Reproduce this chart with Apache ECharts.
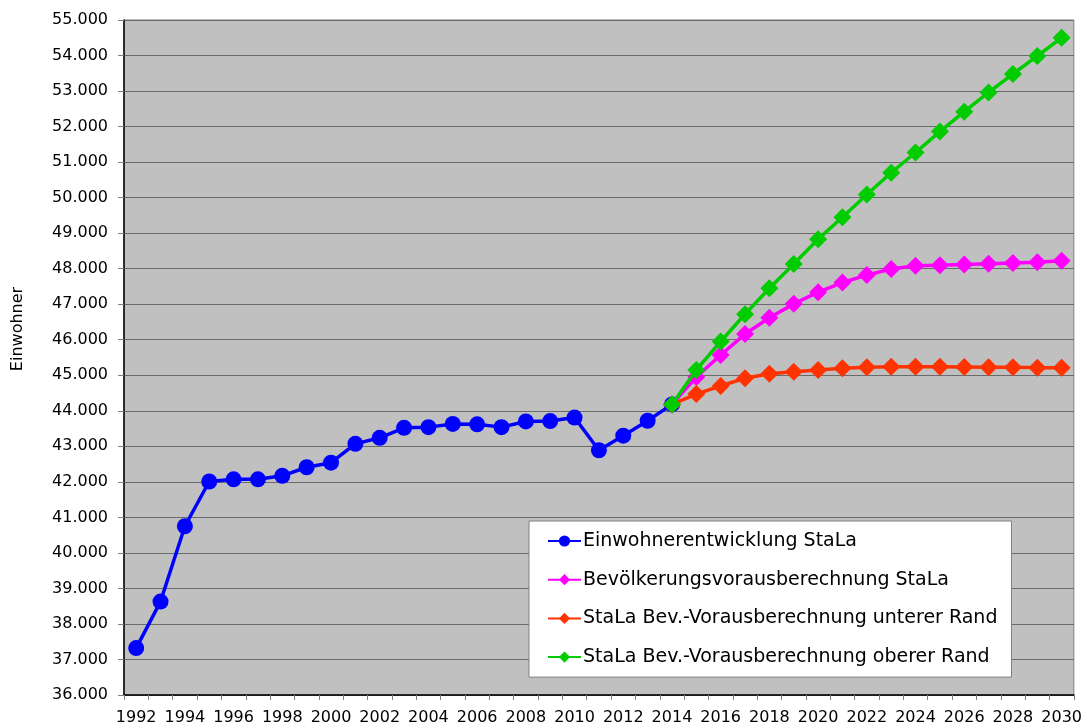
<!DOCTYPE html>
<html><head><meta charset="utf-8">
<script src="https://cdn.jsdelivr.net/npm/echarts@6/dist/echarts.min.js"></script>
<style>html,body{margin:0;padding:0;background:#fff}#c{width:1085px;height:727px}</style>
</head><body><div id="c"></div>
<script>
const years = [];
for (let y = 1992; y <= 2030; y++) years.push(String(y));

const seriesNames = [
  'Einwohnerentwicklung StaLa',
  'Bevölkerungsvorausberechnung StaLa',
  'StaLa Bev.-Vorausberechnung unterer Rand',
  'StaLa Bev.-Vorausberechnung oberer Rand'
];
const yTitle = 'Einwohner';

// 1992..2014
const einwohner = [37320, 38630, 40750, 42010, 42070, 42070, 42170, 42410, 42540, 43070, 43240,
  43520, 43540, 43630, 43620, 43540, 43700, 43710, 43810, 42890, 43300, 43720, 44180];
// 2014..2030
const bevMitte = [44180, 44950, 45570, 46160, 46620, 47010, 47340, 47610, 47820, 47990, 48080,
  48100, 48120, 48140, 48160, 48180, 48220];
const bevUnten = [44180, 44470, 44700, 44915, 45040, 45100, 45150, 45195, 45225, 45240, 45240,
  45240, 45235, 45225, 45225, 45215, 45215];
const bevOben = [44180, 45150, 45950, 46720, 47450, 48130, 48830, 49450, 50090, 50700, 51270,
  51860, 52420, 52960, 53480, 53990, 54500];

const yMin = 36000, yMax = 55000, yStep = 1000;

function pad(arr, startYear) {
  const out = years.map(() => null);
  const off = startYear - 1992;
  arr.forEach((v, i) => { out[off + i] = v; });
  return out;
}

const colors = ['#0000FF', '#FF00FF', '#FF3300', '#00CC00'];
const dataSets = [pad(einwohner, 1992), pad(bevMitte, 2014), pad(bevUnten, 2014), pad(bevOben, 2014)];
const symbols = ['circle', 'diamond', 'diamond', 'diamond'];
const sizes = [16, 18, 18, 18];
const widths = [3.5, 3.5, 3.5, 3.5];

const font = 'DejaVu Sans';
const chart = echarts.init(document.getElementById('c'));
chart.setOption({
  animation: false,
  grid: {
    left: 124, top: 20, right: 11, bottom: 32,
    show: true, backgroundColor: '#C0C0C0', borderColor: '#808080', borderWidth: 1
  },
  graphic: [{
    type: 'text',
    x: 18, y: 329,
    rotation: Math.PI / 2,
    style: {
      text: yTitle, fill: '#000', font: '16px "DejaVu Sans"',
      align: 'center', verticalAlign: 'middle'
    }
  }],
  legend: {
    orient: 'vertical',
    left: 529, top: 521,
    backgroundColor: '#FFFFFF',
    borderColor: '#808080', borderWidth: 1,
    padding: [10, 14, 10, 18],
    itemGap: 18.7,
    itemWidth: 33, itemHeight: 14,
    textStyle: { fontFamily: font, fontSize: 19, lineHeight: 20, color: '#000', padding: [0, 0, 0, -3] },
    data: seriesNames
  },
  xAxis: {
    type: 'category',
    data: years,
    boundaryGap: true,
    axisLine: { lineStyle: { color: '#000', width: 1.5 } },
    axisTick: { show: true, alignWithLabel: false, interval: 0, length: 5, lineStyle: { color: '#808080' } },
    axisLabel: { interval: 1, fontFamily: font, fontSize: 16, color: '#000', margin: 15 },
    splitLine: { show: false }
  },
  yAxis: {
    type: 'value',
    min: yMin, max: yMax, interval: yStep,
    axisLine: { show: true, lineStyle: { color: '#000', width: 1.5 } },
    axisTick: { show: true, length: 6, lineStyle: { color: '#808080' } },
    axisLabel: {
      fontFamily: font, fontSize: 16, color: '#000', margin: 16,
      formatter: v => String(v).replace(/\B(?=(\d{3})+(?!\d))/g, '.')
    },
    splitLine: { show: true, lineStyle: { color: '#6A6A6A', width: 1 } }
  },
  series: seriesNames.map((name, i) => ({
    name,
    type: 'line',
    data: dataSets[i],
    symbol: symbols[i],
    symbolSize: sizes[i],
    showAllSymbol: true,
    connectNulls: false,
    z: 2 + i,
    itemStyle: { color: colors[i] },
    lineStyle: { color: colors[i], width: widths[i] }
  }))
});
</script></body></html>
